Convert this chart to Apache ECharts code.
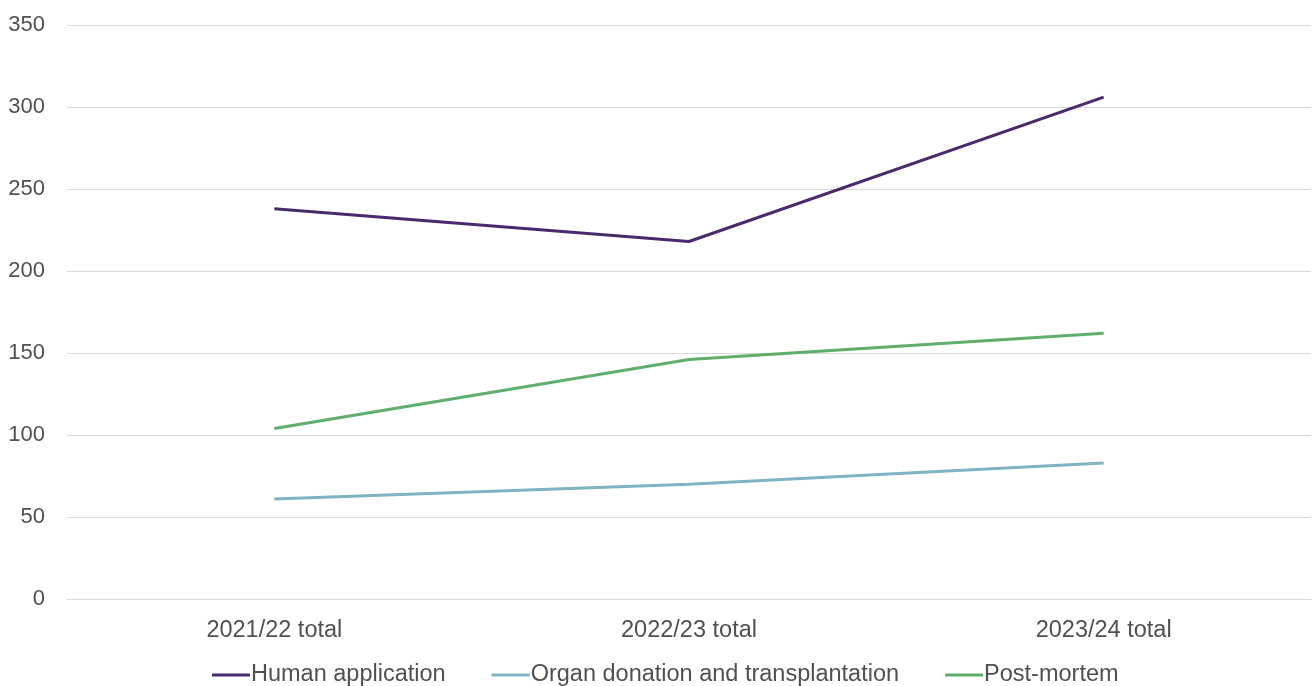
<!DOCTYPE html>
<html><head><meta charset="utf-8">
<script src="https://cdn.jsdelivr.net/npm/echarts@6/dist/echarts.min.js"></script>
<style>html,body{margin:0;padding:0;background:#fff}#c{width:1314px;height:686px}</style>
</head><body><div id="c"></div>
<script>
const categories = ['2021/22 total', '2022/23 total', '2023/24 total'];
const humanApplication = [238, 218, 306];
const organDonation = [61, 70, 83];
const postMortem = [104, 146, 162];
const seriesNames = ['Human application', 'Organ donation and transplantation', 'Post-mortem'];
const colors = ['#4a2a6a', '#7fb2c3', '#5fae6c'];

const chart = echarts.init(document.getElementById('c'));
const font = '"Liberation Sans", Arial, sans-serif';
const mk = (name, data, color) => ({
  name, type: 'line', data, symbol: 'none', smooth: false,
  lineStyle: { width: 3, color }, itemStyle: { color }
});
chart.setOption({
  animation: false,
  color: colors,
  grid: { left: 67, right: 3, top: 25, bottom: 87, containLabel: false },
  legend: {
    bottom: -1, left: 212, padding: [0, 0, 0, 0],
    itemWidth: 38, itemHeight: 3, itemGap: 46,
    icon: 'rect',
    textStyle: { fontFamily: font, fontSize: 23.5, color: '#505050', padding: [0, 0, 0, -4] },
    data: seriesNames
  },
  xAxis: {
    type: 'category', data: categories, boundaryGap: true,
    axisLine: { lineStyle: { color: '#d9d9d9' } },
    axisTick: { show: false },
    axisLabel: { fontFamily: font, fontSize: 23.5, color: '#505050', margin: 20 }
  },
  yAxis: {
    type: 'value', min: 0, max: 350, interval: 50,
    axisLine: { show: false }, axisTick: { show: false },
    splitLine: { lineStyle: { color: '#d9d9d9' } },
    axisLabel: { fontFamily: font, fontSize: 22, color: '#505050', margin: 22 }
  },
  series: [
    mk(seriesNames[0], humanApplication, colors[0]),
    mk(seriesNames[1], organDonation, colors[1]),
    mk(seriesNames[2], postMortem, colors[2])
  ]
});
</script></body></html>
